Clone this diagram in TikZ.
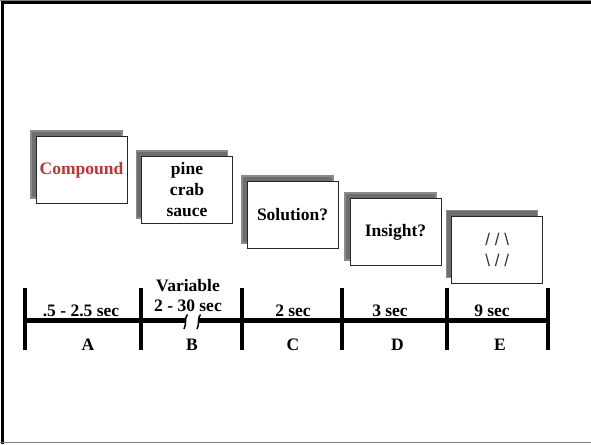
\documentclass[tikz,border=0pt]{standalone}
\usepackage{fontspec}
\setmainfont{Liberation Serif}
\setsansfont{Liberation Sans}
\usetikzlibrary{shadows}
\definecolor{cueRed}{RGB}{192,52,56}
\begin{document}
\begin{tikzpicture}[x=1pt,y=-1pt,
  card/.style={draw=black!85, line width=0.8pt, fill=white,
    minimum width=91pt, minimum height=67pt, inner sep=0pt, align=center,
    font=\fontsize{17.5}{21}\selectfont\bfseries,
    general shadow={fill=black!57, draw=black!45, line width=1.2pt,
      shadow xshift=-5pt, shadow yshift=5.5pt}},
  bar/.style={line width=4.5pt},
  tickmark/.style={line width=4pt},
  lbl/.style={anchor=base, inner sep=0pt, font=\fontsize{17.5}{20}\selectfont\bfseries}]

\useasboundingbox (0,0) rectangle (591,444);
\fill[white] (0,0) rectangle (591,444);

% frame
\draw[gray, line width=1pt] (0,0.5) -- (591,0.5);
\draw[line width=3pt] (2.5,444) -- (2.5,2.5) -- (591,2.5);
\draw[gray, line width=1pt] (0,442.3) -- (591,442.3);

% stimulus cards
\node[card, text=cueRed] (c1) at (81.5,170) {Compound};
\node[card] (c2) at (187,190) {pine\\crab\\sauce};
\node[card] (c3) at (292.5,215) {Solution?};
\node[card] (c4) at (395.5,232) {Insight?};
\node[card, font=\fontsize{17}{21}\selectfont\sffamily, text=black!80] (c5) at (497.2,249.7)
  {/ / \textbackslash\\\textbackslash\ / /};

% timeline
\foreach \i/\x in {0/25,1/141,2/241.7,3/341.7,4/447.3,5/548}{
  \coordinate (t\i) at (\x,320.7);
  \coordinate (u\i) at (\x,288);
  \coordinate (d\i) at (\x,350);
  \draw[tickmark] (u\i) -- (d\i);
}
\coordinate (b1) at (186,320.7);
\coordinate (b2) at (198.5,320.7);
\draw[bar] (t0) -- (b1);
\draw[bar] (b2) -- (t5);
% break marks
\draw[line width=1.5pt] (184,329) .. controls (187,324) and (184,318) .. (187.5,314.5);
\draw[line width=1.5pt] (197,329) .. controls (200,324) and (197,318) .. (200.5,314.5);

% durations
\node[lbl] (dA) at (81,316.7) {.5 - 2.5 sec};
\node[lbl] (vB) at (188,291.7) {Variable};
\node[lbl] (dB) at (188,311.7) {2 - 30 sec};
\node[lbl] (dC) at (293,316.7) {2 sec};
\node[lbl] (dD) at (390,316.7) {3 sec};
\node[lbl] (dE) at (492,316.7) {9 sec};

% phase letters
\node[lbl] (lA) at (88,350) {A};
\node[lbl] (lB) at (192,350) {B};
\node[lbl] (lC) at (293,350) {C};
\node[lbl] (lD) at (397.5,350) {D};
\node[lbl] (lE) at (500,350) {E};
\end{tikzpicture}
\end{document}
